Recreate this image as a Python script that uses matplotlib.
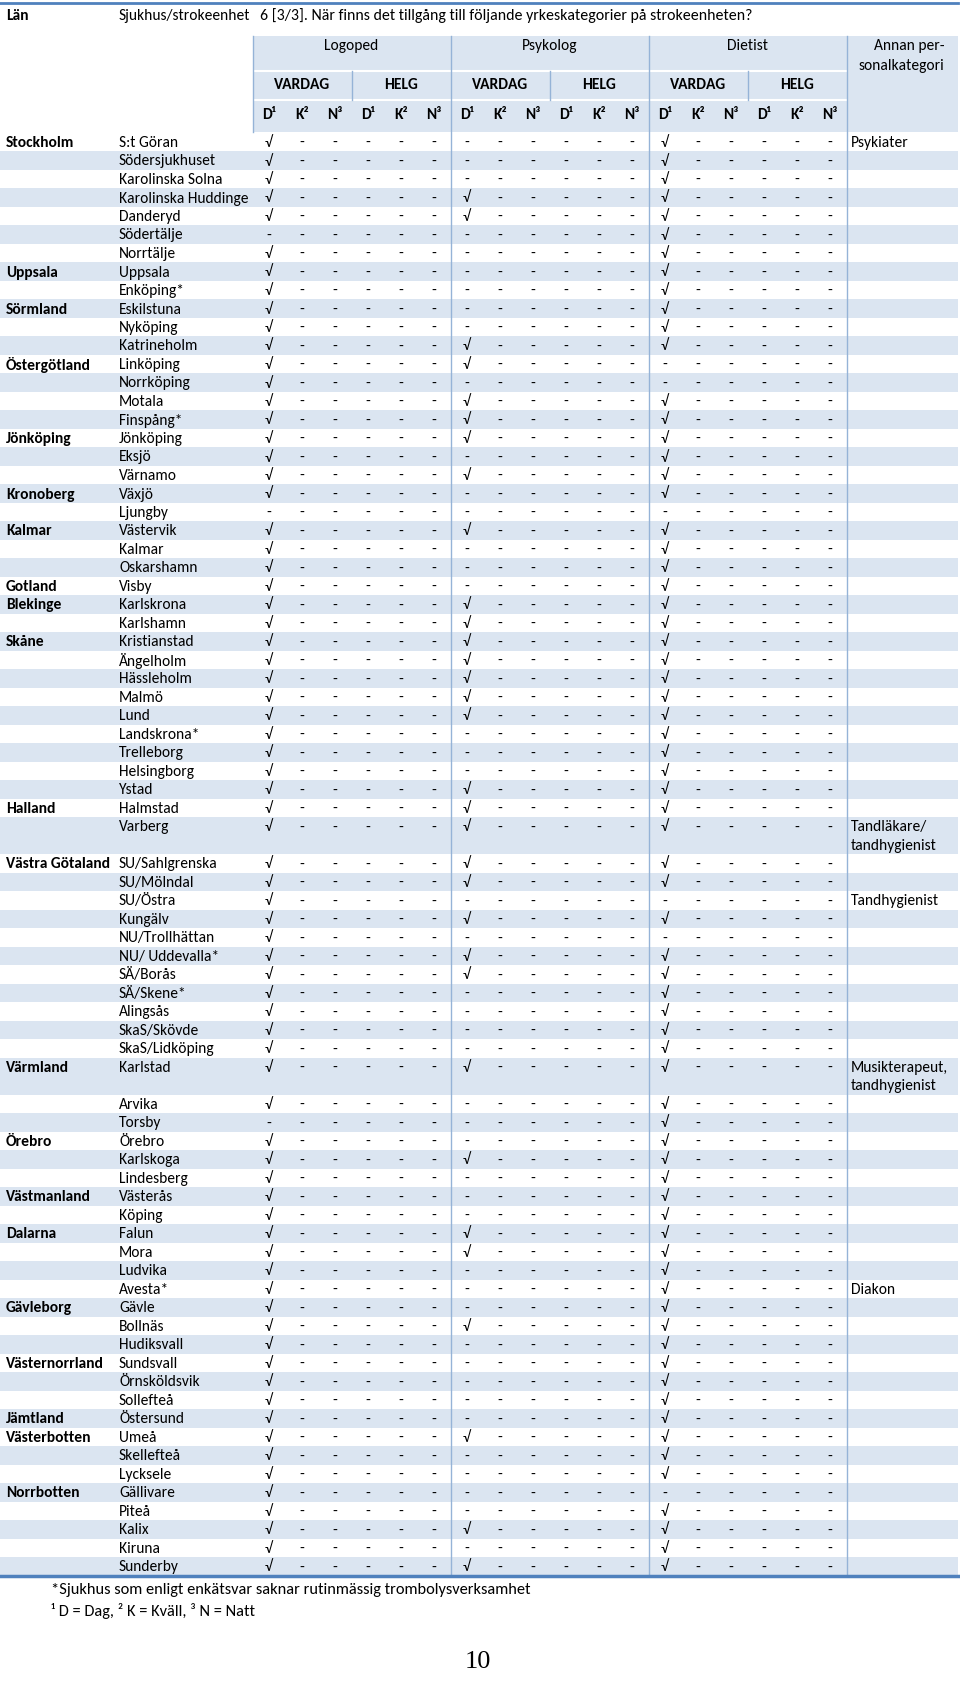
import matplotlib
matplotlib.use('Agg')
import matplotlib.pyplot as plt
from matplotlib import font_manager
from matplotlib.patches import Rectangle

names = {f.name for f in font_manager.fontManager.ttflist}
if 'Carlito' in names:
    BODY, FS = 'Carlito', 11.2
elif 'Liberation Sans Narrow' in names:
    BODY, FS = 'Liberation Sans Narrow', 11
else:
    BODY, FS = 'Liberation Sans', 10.1
FAM = [BODY, 'DejaVu Sans']

title = '6 [3/3]. När finns det tillgång till följande yrkeskategorier på strokeenheten?'
groups = ['Logoped', 'Psykolog', 'Dietist']
periods = ['VARDAG', 'HELG']
shifts = ['D¹', 'K²', 'N³']

lan = ['Stockholm', 'Uppsala', 'Sörmland', 'Östergötland', 'Jönköping', 'Kronoberg',
       'Kalmar', 'Gotland', 'Blekinge', 'Skåne', 'Halland', 'Västra Götaland',
       'Värmland', 'Örebro', 'Västmanland', 'Dalarna', 'Gävleborg', 'Västernorrland',
       'Jämtland', 'Västerbotten', 'Norrbotten']
lan_count = [7, 2, 3, 4, 3, 2, 3, 1, 2, 9, 2, 11, 3, 3, 2, 4, 3, 3, 1, 3, 5]

sjukhus = ['S:t Göran', 'Södersjukhuset', 'Karolinska Solna', 'Karolinska Huddinge',
           'Danderyd', 'Södertälje', 'Norrtälje',
           'Uppsala', 'Enköping*',
           'Eskilstuna', 'Nyköping', 'Katrineholm',
           'Linköping', 'Norrköping', 'Motala', 'Finspång*',
           'Jönköping', 'Eksjö', 'Värnamo',
           'Växjö', 'Ljungby',
           'Västervik', 'Kalmar', 'Oskarshamn',
           'Visby',
           'Karlskrona', 'Karlshamn',
           'Kristianstad', 'Ängelholm', 'Hässleholm', 'Malmö', 'Lund', 'Landskrona*',
           'Trelleborg', 'Helsingborg', 'Ystad',
           'Halmstad', 'Varberg',
           'SU/Sahlgrenska', 'SU/Mölndal', 'SU/Östra', 'Kungälv', 'NU/Trollhättan',
           'NU/ Uddevalla*', 'SÄ/Borås', 'SÄ/Skene*', 'Alingsås', 'SkaS/Skövde',
           'SkaS/Lidköping',
           'Karlstad', 'Arvika', 'Torsby',
           'Örebro', 'Karlskoga', 'Lindesberg',
           'Västerås', 'Köping',
           'Falun', 'Mora', 'Ludvika', 'Avesta*',
           'Gävle', 'Bollnäs', 'Hudiksvall',
           'Sundsvall', 'Örnsköldsvik', 'Sollefteå',
           'Östersund',
           'Umeå', 'Skellefteå', 'Lycksele',
           'Gällivare', 'Piteå', 'Kalix', 'Kiruna', 'Sunderby']

# vardag dag: Logoped / Psykolog / Dietist (1 = √), all other shifts are '-'
dag_vardag = ['101', '101', '101', '111', '111', '001', '101',
              '101', '101',
              '101', '101', '111',
              '110', '100', '111', '111',
              '111', '101', '111',
              '101', '000',
              '111', '101', '101',
              '101',
              '111', '111',
              '111', '111', '111', '111', '111', '101', '101', '101', '111',
              '111', '111',
              '111', '111', '100', '111', '100', '111', '111', '101', '101', '101', '101',
              '111', '101', '001',
              '101', '111', '101',
              '101', '101',
              '111', '111', '101', '101',
              '101', '111', '101',
              '101', '101', '101',
              '101',
              '111', '101', '101',
              '100', '101', '111', '101', '111']

annan = {'S:t Göran': 'Psykiater', 'Varberg': 'Tandläkare/\ntandhygienist',
         'SU/Östra': 'Tandhygienist', 'Karlstad': 'Musikterapeut,\ntandhygienist',
         'Avesta*': 'Diakon'}

footnotes = ['*Sjukhus som enligt enkätsvar saknar rutinmässig trombolysverksamhet',
             '¹ D = Dag, ² K = Kväll, ³ N = Natt']
page = '10'

BAND = '#dbe5f1'
LINE = '#4f81bd'
THIN = '#95b3d7'

fig = plt.figure(figsize=(9.6, 17.08), dpi=100)
ax = fig.add_axes([0, 0, 1, 1])
ax.set_xlim(0, 960)
ax.set_ylim(1708, 0)
ax.axis('off')

x0, cw = 269, 33
right = 958
y0, pitch = 143, 18.5


def colx(k):
    return x0 + cw * k


def txt(x, y, s, **kw):
    kw.setdefault('fontsize', FS)
    kw.setdefault('va', 'center')
    kw.setdefault('family', FAM)
    ax.text(x, y, s, **kw)


# header
ax.plot([0, right], [4, 4], color=LINE, lw=2)
txt(6, 16, 'Län', fontweight='bold')
txt(119, 16, 'Sjukhus/strokeenhet')
txt(260, 16, title, fontsize=FS * 1.02)

htop, hbot = 37, 133
hx0 = colx(-0.5)
ax.add_patch(Rectangle((hx0, htop), right - hx0, hbot - htop, color=BAND, lw=0))
ax.plot([hx0, colx(17.5)], [72, 72], color='white', lw=1.5)
ax.plot([hx0, colx(17.5)], [101, 101], color='white', lw=1.5)
ax.plot([hx0, hx0], [htop, hbot], color=THIN, lw=1)
for g, name in enumerate(groups):
    txt(colx(6 * g + 2.5), 46, name, ha='center')
    for p, per in enumerate(periods):
        txt(colx(6 * g + 3 * p + 1), 85, per, ha='center', fontweight='bold')
        if p == 1:
            ax.plot([colx(6 * g + 2.5)] * 2, [72, 101], color=THIN, lw=1)
        for s, sh in enumerate(shifts):
            txt(colx(6 * g + 3 * p + s), 115, sh, ha='center', fontweight='bold')
txt(944, 46, 'Annan per-', ha='right')
txt(944, 66, 'sonalkategori', ha='right')

# body
units = []
u = 0
for name in sjukhus:
    units.append(u)
    u += 2 if '\n' in annan.get(name, '') else 1
ybot = y0 - pitch / 2 + pitch * u

starts = [sum(lan_count[:i]) for i in range(len(lan))]
for i, name in enumerate(sjukhus):
    yc = y0 + pitch * units[i]
    h = 2 if '\n' in annan.get(name, '') else 1
    if i % 2 == 1:
        ax.add_patch(Rectangle((0, yc - pitch / 2), right, pitch * h, color=BAND, lw=0))
    if i in starts:
        txt(6, yc, lan[starts.index(i)], fontweight='bold')
    txt(119, yc, name)
    for k in range(18):
        g, r = divmod(k, 6)
        mark = '√' if r == 0 and dag_vardag[i][g] == '1' else '-'
        txt(colx(k), yc, mark, ha='center')
    if name in annan:
        lines = annan[name].split('\n')
        for j, line in enumerate(lines):
            txt(851, yc + pitch * j, line)

for k in (5.5, 11.5, 17.5):
    ax.plot([colx(k)] * 2, [htop, ybot], color=THIN, lw=1)
ax.plot([0, right], [ybot, ybot], color=LINE, lw=2.5)

txt(51, ybot + 13, footnotes[0], fontsize=FS * 1.05)
txt(51, ybot + 34, footnotes[1], fontsize=FS * 1.05)
ax.text(478, 1662, page, ha='center', va='center', fontsize=19, family='Liberation Serif')

fig.savefig('out.png', dpi=100)
